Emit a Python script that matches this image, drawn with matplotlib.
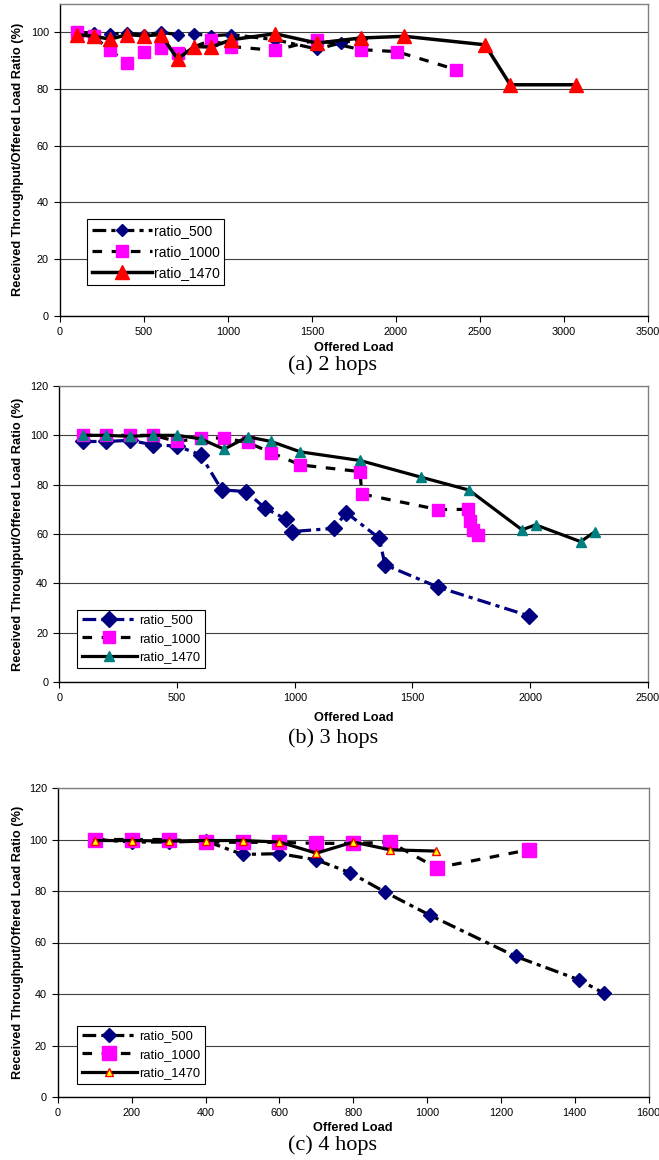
import matplotlib
matplotlib.use("Agg")
import matplotlib.pyplot as plt

plt.rcParams['font.family'] = ['Liberation Sans', 'DejaVu Sans']

# ---------------- (a) 2 hops ----------------
a_x500 = [100, 200, 300, 400, 500, 600, 700, 800, 900, 1020, 1280, 1530, 1670, 1790]
a_y500 = [100, 99.8, 99.4, 99.8, 99.0, 100, 99.2, 99.4, 98.8, 99.2, 97.4, 94.1, 96.2, 97.6]
a_x1000 = [100, 200, 300, 400, 500, 600, 700, 900, 1020, 1280, 1530, 1790, 2005, 2360]
a_y1000 = [100, 98.6, 93.6, 89.2, 93.2, 94.6, 92.7, 97.2, 95.0, 93.6, 97.4, 93.9, 93.2, 86.8]
a_x1470 = [100, 200, 300, 400, 500, 600, 700, 800, 900, 1020, 1280, 1530, 1790, 2050, 2530, 2680, 3070]
a_y1470 = [99.2, 98.6, 97.6, 99.2, 98.8, 99.2, 90.6, 95.0, 94.8, 97.4, 99.5, 96.2, 98.0, 98.6, 95.6, 81.5, 81.5]

# ---------------- (b) 3 hops ----------------
b_x500 = [100, 200, 300, 400, 500, 600, 690, 793, 874, 963, 990, 1168, 1218, 1359, 1383, 1610, 1995]
b_y500 = [97.5, 97.5, 98.0, 96.1, 95.7, 92.1, 77.9, 77.2, 70.5, 66.0, 61.0, 62.3, 68.7, 58.3, 47.5, 38.4, 26.8]
b_x1000 = [100, 200, 300, 400, 500, 600, 700, 800, 900, 1024, 1277, 1285, 1610, 1734, 1744, 1756, 1780]
b_y1000 = [100, 100, 100, 100, 97.5, 98.9, 98.9, 97.1, 93.0, 88.0, 85.3, 76.2, 69.9, 70.0, 65.4, 61.7, 59.6]
b_x1470 = [100, 200, 300, 400, 500, 600, 700, 800, 900, 1024, 1277, 1538, 1740, 1965, 2023, 2214, 2276]
b_y1470 = [100, 100, 99.6, 100, 100, 98.6, 94.4, 99.4, 97.5, 93.3, 89.8, 83.0, 77.8, 61.7, 63.7, 56.9, 61.0]

# ---------------- (c) 4 hops ----------------
c_x500 = [100, 200, 300, 400, 500, 600, 700, 792, 886, 1009, 1240, 1412, 1480]
c_y500 = [100, 99.0, 99.0, 99.4, 94.2, 94.5, 92.1, 87.1, 79.6, 70.5, 54.6, 45.5, 40.2]
c_x1000 = [100, 200, 300, 400, 500, 600, 700, 800, 900, 1026, 1275]
c_y1000 = [100, 100, 100, 99.0, 98.9, 98.9, 98.5, 98.5, 98.9, 89.0, 96.0]
c_x1470 = [100, 200, 300, 400, 500, 600, 700, 800, 900, 1024]
c_y1470 = [99.6, 99.6, 99.4, 99.6, 99.6, 99.0, 94.7, 99.0, 96.0, 95.5]

labels = ['ratio_500', 'ratio_1000', 'ratio_1470']
ylabel = 'Received Throughput/Offered Load Ratio (%)'
xlabel = 'Offered Load'
captions = ['(a) 2 hops', '(b) 3 hops', '(c) 4 hops']

W, H = 659, 1160
fig = plt.figure(figsize=(W / 100, H / 100), dpi=100)
SERIF = ['Liberation Serif', 'DejaVu Serif']


def px_axes(left, right, top, bottom):
    return fig.add_axes([left / W, 1 - bottom / H, (right - left) / W, (bottom - top) / H])


DASHDOT = (0, (4.3, 1.6, 1.3, 1.6))
DASHED = (0, (3, 3))


def style_axes(ax, xmax, xstep, ymax, left, right, top, bottom, xl_y):
    ax.set_xlim(0, xmax)
    ax.set_ylim(0, ymax)
    ax.set_xticks(range(0, xmax + 1, xstep))
    ax.set_yticks(range(0, ymax + 1, 20))
    ax.yaxis.grid(True, color='#404040', lw=0.8)
    ax.set_axisbelow(True)
    for s in ['top', 'right']:
        ax.spines[s].set_color('#808080')
        ax.spines[s].set_linewidth(1.0)
    for s in ['left', 'bottom']:
        ax.spines[s].set_color('black')
        ax.spines[s].set_linewidth(1.0)
    ax.tick_params(axis='both', labelsize=7.8, direction='out', length=4, width=0.8, pad=4)
    ax.set_xlabel(xlabel, fontsize=9.2, fontweight='bold')
    ax.set_ylabel(ylabel, fontsize=9.2, fontweight='bold')
    ax.xaxis.label.set_verticalalignment('center')
    ax.yaxis.label.set_verticalalignment('center')
    w = right - left
    h = bottom - top
    ax.yaxis.set_label_coords(-(left - 18) / w, 0.5)
    ax.xaxis.set_label_coords(0.5, -(xl_y - bottom) / h)


def add_legend(ax, handles, anchor, fs):
    leg = ax.legend(handles=handles, labels=labels, loc='lower left', bbox_to_anchor=anchor,
                    fontsize=fs, frameon=True, fancybox=False, framealpha=1,
                    edgecolor='black', handlelength=4.3, labelspacing=0.5,
                    borderpad=0.35, handletextpad=0.15, borderaxespad=0)
    leg.get_frame().set_linewidth(0.8)


# ---- panel a ----
L, R, T, B = 60, 648, 4, 315.7
ax = px_axes(L, R, T, B)
l1, = ax.plot(a_x500, a_y500, color='black', lw=2.3, ls=DASHDOT, marker='D', ms=6,
              mfc='#000080', mec='#000080')
l2, = ax.plot(a_x1000, a_y1000, color='black', lw=2.3, ls=DASHED, marker='s', ms=8,
              mfc='#FF00FF', mec='#FF00FF')
l3, = ax.plot(a_x1470, a_y1470, color='black', lw=2.5, ls='-', marker='^', ms=10,
              mfc='#FF0000', mec='#FF0000')
style_axes(ax, 3500, 500, 110, L, R, T, B, 348)
add_legend(ax, [l1, l2, l3], ((87 - L) / (R - L), (B - 285) / (B - T)), 10)
fig.text(333 / W, 1 - 365 / H, captions[0], ha='center', va='center', fontsize=16, family=SERIF)

# ---- panel b ----
L, R, T, B = 59.25, 648, 386, 682
ax = px_axes(L, R, T, B)
l1, = ax.plot(b_x500, b_y500, color='#000080', lw=2.3, ls=DASHDOT, marker='D', ms=8,
              mfc='#000080', mec='#000080')
l2, = ax.plot(b_x1000, b_y1000, color='black', lw=2.3, ls=DASHED, marker='s', ms=9,
              mfc='#FF00FF', mec='#FF00FF')
l3, = ax.plot(b_x1470, b_y1470, color='black', lw=2.3, ls='-', marker='^', ms=6.5,
              mfc='#008080', mec='#008080')
style_axes(ax, 2500, 500, 120, L, R, T, B, 718)
add_legend(ax, [l1, l2, l3], ((77 - L) / (R - L), (B - 668) / (B - T)), 9.3)
fig.text(333 / W, 1 - 738 / H, captions[1], ha='center', va='center', fontsize=16, family=SERIF)

# ---- panel c ----
L, R, T, B = 58, 648.5, 788, 1097
ax = px_axes(L, R, T, B)
l1, = ax.plot(c_x500, c_y500, color='black', lw=2.3, ls=DASHDOT, marker='D', ms=7,
              mfc='#000080', mec='#000080')
l2, = ax.plot(c_x1000, c_y1000, color='black', lw=2.3, ls=DASHED, marker='s', ms=9.5,
              mfc='#FF00FF', mec='#FF00FF')
l3, = ax.plot(c_x1470, c_y1470, color='black', lw=2.3, ls='-', marker='^', ms=5.5,
              mfc='#FFFF00', mec='#FF0000', mew=1.0)
style_axes(ax, 1600, 200, 120, L, R, T, B, 1128)
add_legend(ax, [l1, l2, l3], ((77 - L) / (R - L), (B - 1084) / (B - T)), 9.3)
fig.text(333 / W, 1 - 1145 / H, captions[2], ha='center', va='center', fontsize=16, family=SERIF)

fig.savefig('out.png', dpi=100)
